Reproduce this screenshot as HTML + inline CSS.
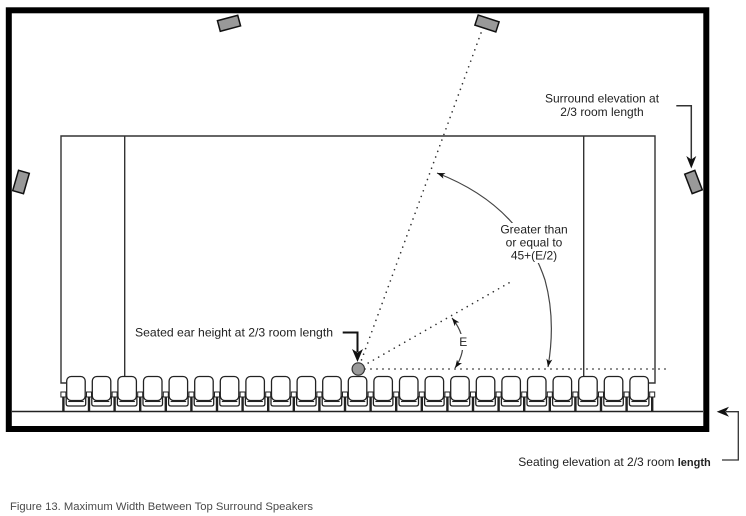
<!DOCTYPE html>
<html>
<head>
<meta charset="utf-8">
<style>
  html,body{margin:0;padding:0;background:#fff;}
  svg{display:block;}
  text{font-family:"Liberation Sans",Arial,sans-serif;}
</style>
</head>
<body>
<svg width="746" height="516" viewBox="0 0 746 516" xmlns="http://www.w3.org/2000/svg">
  <defs>
    <marker id="ah" markerUnits="userSpaceOnUse" markerWidth="10" markerHeight="8" refX="8" refY="3" orient="auto-start-reverse">
      <path d="M0,0 L8,3 L0,6 L2,3 z" fill="#111"/>
    </marker>
    <g id="seat">
      <rect x="0" y="376.5" width="18.5" height="24" rx="4.5" fill="#fff" stroke="#222" stroke-width="1.3"/>
      <path d="M-0.5,396 V404 Q-0.5,406 2,406 H16.5 Q19,406 19,404 V396" fill="none" stroke="#222" stroke-width="1.3"/>
      <path d="M1.5,401.5 H17" stroke="#222" stroke-width="1.1"/>
    </g>
    <g id="leg">
      <rect x="-2.5" y="392" width="5" height="5" fill="#fff" stroke="#222" stroke-width="1"/>
      <rect x="-1.2" y="397" width="2.4" height="14.5" fill="#222"/>
    </g>
  </defs>

  <rect width="746" height="516" fill="#fff"/>

  <!-- room walls -->
  <rect x="8.8" y="10.3" width="697.5" height="418.7" fill="none" stroke="#000" stroke-width="6"/>

  <!-- floor / seating elevation line -->
  <line x1="12" y1="411.5" x2="703" y2="411.5" stroke="#222" stroke-width="1.5"/>

  <!-- screen/stage box -->
  <path d="M66,383 H61 V136 H655 V383 H649" fill="none" stroke="#333" stroke-width="1.4"/>
  <line x1="124.7" y1="136" x2="124.7" y2="377" stroke="#333" stroke-width="1.4"/>
  <line x1="583.7" y1="136" x2="583.7" y2="377" stroke="#333" stroke-width="1.4"/>

  <!-- seats -->
  <use href="#seat" x="66.7"/>
  <use href="#seat" x="92.3"/>
  <use href="#seat" x="117.9"/>
  <use href="#seat" x="143.5"/>
  <use href="#seat" x="169.1"/>
  <use href="#seat" x="194.7"/>
  <use href="#seat" x="220.3"/>
  <use href="#seat" x="245.9"/>
  <use href="#seat" x="271.5"/>
  <use href="#seat" x="297.1"/>
  <use href="#seat" x="322.7"/>
  <use href="#seat" x="348.3"/>
  <use href="#seat" x="373.9"/>
  <use href="#seat" x="399.5"/>
  <use href="#seat" x="425.1"/>
  <use href="#seat" x="450.7"/>
  <use href="#seat" x="476.3"/>
  <use href="#seat" x="501.9"/>
  <use href="#seat" x="527.5"/>
  <use href="#seat" x="553.1"/>
  <use href="#seat" x="578.7"/>
  <use href="#seat" x="604.3"/>
  <use href="#seat" x="629.9"/>

  <use href="#leg" x="63.4"/>
  <use href="#leg" x="89.0"/>
  <use href="#leg" x="114.6"/>
  <use href="#leg" x="140.2"/>
  <use href="#leg" x="165.8"/>
  <use href="#leg" x="191.4"/>
  <use href="#leg" x="217.0"/>
  <use href="#leg" x="242.6"/>
  <use href="#leg" x="268.2"/>
  <use href="#leg" x="293.8"/>
  <use href="#leg" x="319.4"/>
  <use href="#leg" x="345.0"/>
  <use href="#leg" x="370.6"/>
  <use href="#leg" x="396.2"/>
  <use href="#leg" x="421.8"/>
  <use href="#leg" x="447.4"/>
  <use href="#leg" x="473.0"/>
  <use href="#leg" x="498.6"/>
  <use href="#leg" x="524.2"/>
  <use href="#leg" x="549.8"/>
  <use href="#leg" x="575.4"/>
  <use href="#leg" x="601.0"/>
  <use href="#leg" x="626.6"/>
  <use href="#leg" x="652.2"/>

  <!-- speakers -->
  <rect x="-10.5" y="-5.5" width="21" height="11" fill="#999" stroke="#111" stroke-width="1.5" transform="translate(229,23.3) rotate(-15)"/>
  <rect x="-11" y="-5.3" width="22" height="10.6" fill="#999" stroke="#111" stroke-width="1.5" transform="translate(487,23.5) rotate(18)"/>
  <rect x="-5.6" y="-10.6" width="11.2" height="21.2" fill="#999" stroke="#111" stroke-width="1.5" transform="translate(21,182) rotate(16)"/>
  <rect x="-5.4" y="-10.4" width="10.8" height="20.8" fill="#999" stroke="#111" stroke-width="1.5" transform="translate(693.5,182) rotate(-21)"/>

  <!-- dotted sight lines -->
  <g stroke="#333" stroke-width="1.7" stroke-linecap="round" stroke-dasharray="0 6" fill="none">
    <line x1="481" y1="33" x2="360" y2="364"/>
    <line x1="365" y1="369" x2="668" y2="369"/>
    <line x1="363" y1="366" x2="514" y2="280"/>
  </g>

  <!-- listener head -->
  <circle cx="358.3" cy="369" r="6.2" fill="#9a9a9a" stroke="#333" stroke-width="1.2"/>

  <!-- angle arcs -->
  <path d="M437,173 Q520,205 545,280 Q556,320 548,367" fill="none" stroke="#444" stroke-width="1.2" marker-start="url(#ah)" marker-end="url(#ah)"/>
  <path d="M452,318 Q472,343 455,368" fill="none" stroke="#444" stroke-width="1.2" marker-start="url(#ah)" marker-end="url(#ah)"/>

  <!-- label backgrounds -->
  <rect x="498" y="223" width="72" height="40" fill="#fff"/>
  <rect x="457" y="334" width="12" height="16" fill="#fff"/>

  <!-- labels -->
  <g font-size="12" fill="#222">
    <text x="534" y="233.5" text-anchor="middle">Greater than</text>
    <text x="534" y="246.5" text-anchor="middle">or equal to</text>
    <text x="534" y="259.5" text-anchor="middle">45+(E/2)</text>
    <text x="463.3" y="346" text-anchor="middle">E</text>
    <text x="602" y="102.5" text-anchor="middle">Surround elevation at</text>
    <text x="602" y="116" text-anchor="middle">2/3 room length</text>
    <text x="135" y="336.5" textLength="198" lengthAdjust="spacingAndGlyphs">Seated ear height at 2/3 room length</text>
    <text x="518.3" y="466">Seating elevation at 2/3 room <tspan font-weight="bold" font-family="'Liberation Sans', sans-serif" font-size="11">length</tspan></text>
  </g>

  <!-- surround elevation arrow -->
  <path d="M676.3,105.7 H691.3 V160" fill="none" stroke="#333" stroke-width="1.5"/>
  <polygon points="691.3,168.5 686.3,156 691.3,159.5 696.3,156" fill="#111"/>

  <!-- seated ear height arrow -->
  <path d="M342.7,332.5 H357.5 V352" fill="none" stroke="#111" stroke-width="2"/>
  <polygon points="357.5,362 352,349 357.5,352.5 363,349" fill="#111"/>

  <!-- seating elevation arrow -->
  <path d="M722,460 H738.3 V411.7 H726" fill="none" stroke="#333" stroke-width="1.3"/>
  <polygon points="716.7,411.7 729,406.7 725.5,411.7 729,416.7" fill="#111"/>

  <!-- caption -->
  <text x="10" y="510" font-size="11" fill="#4a4a4a" textLength="303" lengthAdjust="spacingAndGlyphs">Figure 13. Maximum Width Between Top Surround Speakers</text>
</svg>
</body>
</html>
